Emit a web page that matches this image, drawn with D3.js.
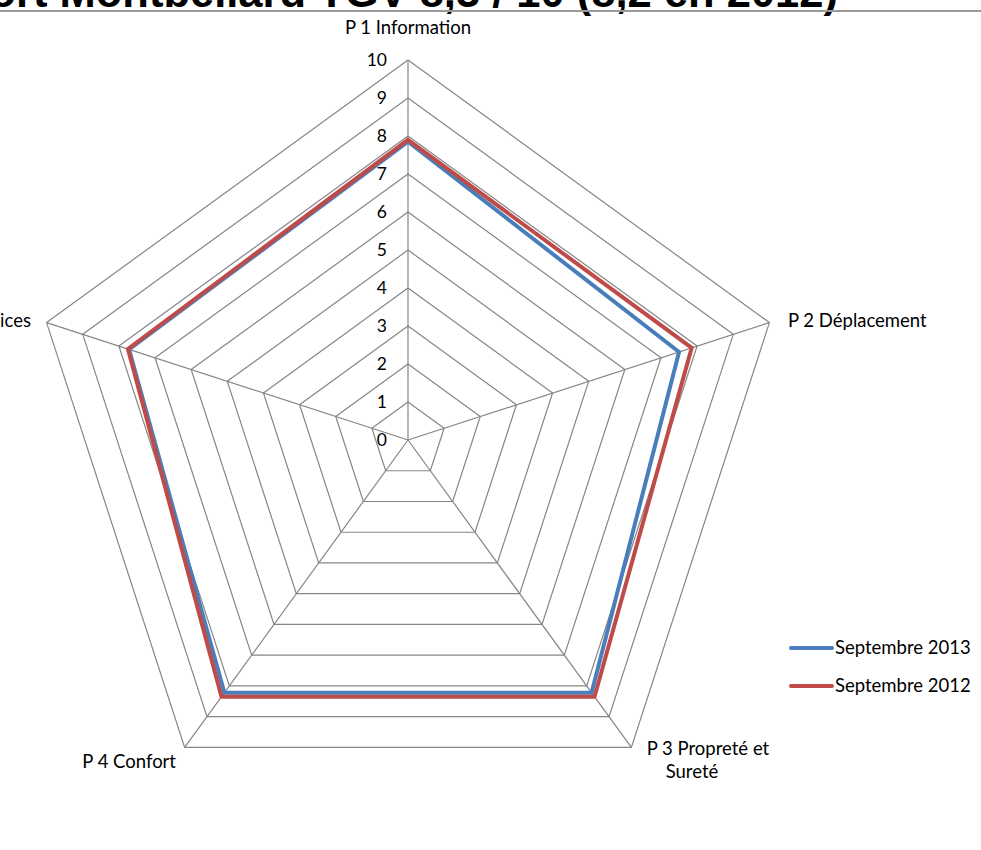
<!DOCTYPE html>
<html><head><meta charset="utf-8">
<script src="https://cdn.jsdelivr.net/npm/d3@7"></script>
<style>body{margin:0;background:#fff;} svg{display:block;}</style>
</head><body>
<svg id="c" width="981" height="850"></svg>
<script>
const title = "Gare de Belfort Montbéliard TGV 8,3 / 10 (8,2 en 2012)";
const categories = ["P 1 Information", "P 2 Déplacement", "P 3 Propreté et Sureté", "P 4 Confort", "P 5 Services"];
const seriesNames = ["Septembre 2013", "Septembre 2012"];
const values2013 = [7.85, 7.5, 8.22, 8.22, 7.72];
const values2012 = [7.9, 7.85, 8.35, 8.35, 7.75];
const ticks = [0,1,2,3,4,5,6,7,8,9,10];
const colors = ["#4A7EBB", "#BE4B48"];

const svg = d3.select("#c");
const cx = 408, cy = 440, R = 380;
const r = d3.scaleLinear().domain([0, 10]).range([0, R]);
const ang = d3.scalePoint().domain(categories).range([0, 2*Math.PI*(categories.length-1)/categories.length]);
const pt = (c, v) => { const a = ang(c) - Math.PI/2; return [cx + r(v)*Math.cos(a), cy + r(v)*Math.sin(a)]; };

// title (cropped at top)
svg.append("text").attr("x", 838).attr("y", 7).attr("text-anchor", "end")
  .attr("font-family", "Liberation Sans, Arial, sans-serif").attr("font-weight", "bold")
  .attr("font-size", 43.5).attr("fill", "#000").text(title);
svg.append("line").attr("x1", 0).attr("x2", 981).attr("y1", 11).attr("y2", 11)
  .attr("stroke", "#9a9a9a").attr("stroke-width", 2);

const g = svg.append("g");
ticks.filter(t => t > 0).forEach(t => {
  g.append("polygon").attr("points", categories.map(c => pt(c, t).join(",")).join(" "))
    .attr("fill", "none").attr("stroke", "#868686").attr("stroke-width", 1.2);
});
categories.forEach(c => {
  const p = pt(c, 10);
  g.append("line").attr("x1", cx).attr("y1", cy).attr("x2", p[0]).attr("y2", p[1])
    .attr("stroke", "#868686").attr("stroke-width", 1.2);
});
const font = "Lato, 'Open Sans', sans-serif";
g.selectAll(".tk").data(ticks).enter().append("text")
  .attr("x", cx - 21).attr("y", d => cy - r(d)).attr("dy", "0.35em")
  .attr("text-anchor", "end").attr("font-family", font)
  .attr("font-size", 17.5).attr("fill", "#000").text(d => d);

const line = d3.line();
[values2013, values2012].forEach((vals, i) => {
  const pts = categories.map((c, j) => pt(c, vals[j]));
  g.append("path").attr("d", line(pts) + "Z").attr("fill", "none")
    .attr("stroke", colors[i]).attr("stroke-width", 4).attr("stroke-linejoin", "miter");
});

const fs = 18.5;
const lab = (x, y, anchor, text) => svg.append("text").attr("font-family", font).attr("font-size", fs)
  .attr("fill", "#000").attr("text-anchor", anchor).attr("x", x).attr("y", y).text(text);
lab(408, 34, "middle", categories[0]);
lab(788, 327, "start", categories[1]);
lab(708, 755, "middle", "P 3 Propreté et");
lab(692, 778, "middle", "Sureté");
lab(176, 768, "end", categories[3]);
lab(31, 327, "end", categories[4]);

seriesNames.forEach((s, i) => {
  const y = 648 + i*38;
  svg.append("line").attr("x1", 791).attr("x2", 832).attr("y1", y).attr("y2", y)
    .attr("stroke", colors[i]).attr("stroke-width", 4).attr("stroke-linecap", "round");
  svg.append("text").attr("x", 835).attr("y", y).attr("dy", "0.35em")
    .attr("font-family", font).attr("font-size", fs).attr("fill", "#000").text(s);
});
</script>
</body></html>
